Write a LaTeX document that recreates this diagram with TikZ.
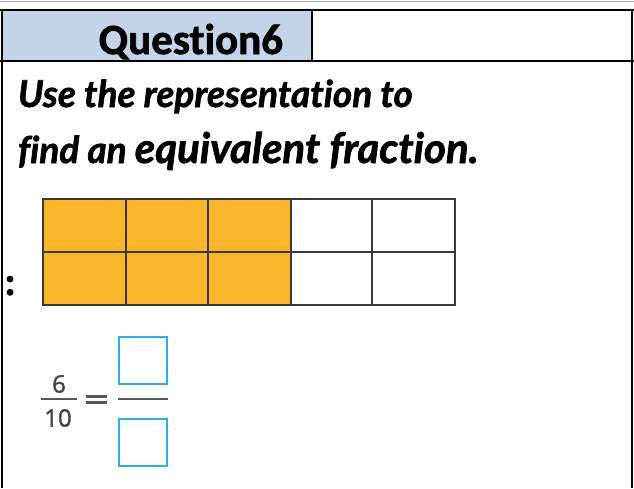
\documentclass[tikz,border=0pt]{standalone}
\usepackage{fontspec}
\setmainfont[Ligatures=NoCommon,BoldFeatures={FakeBold=1.6}]{Carlito}
\newfontfamily\latofont[Ligatures=NoCommon,BoldItalicFeatures={FakeBold=1.6}]{Lato}
\newfontfamily\figfont[FakeBold=1.6]{Open Sans}
\usepackage{tikz}
\usetikzlibrary{
    positioning
}
\definecolor{headblue}{HTML}{C6D4EA}
\definecolor{cellorange}{HTML}{FBB52B}
\definecolor{gridgray}{HTML}{3A3A3A}
\definecolor{boxcyan}{HTML}{2DB0E8}
\definecolor{figgray}{HTML}{444444}

\begin{document}
\begin{tikzpicture}[
    x=1pt,
    y=-1pt,
    every node/.style={
        inner sep=0pt,
        outer sep=0pt
    },
    frameline/.style={
        line width=2.6pt,
        black
    },
    gridline/.style={
        line width=2pt,
        draw=gridgray
    },
    answerbox/.style={
        draw=boxcyan,
        line width=2.4pt,
        minimum width=48pt,
        minimum height=47pt
    },
    figline/.style={
        line width=2.6pt,
        draw=figgray!90
    }
]

    \useasboundingbox (0,0) rectangle (634,488);

    % -------------------------------------------------------
    % Table frame and header
    % -------------------------------------------------------
    \draw[
        line width=1pt,
        gray!60
    ]
        (0,1) -- (634,1);

    \fill[headblue]
        (2,10) rectangle (312,61);

    \draw[frameline]
        (0,10) -- (634,10);

    \draw[frameline]
        (0,61) -- (634,61);

    \draw[frameline]
        (2,10) -- (2,488);

    \draw[frameline]
        (312,10) -- (312,61);

    \draw[frameline]
        (632,10) -- (632,488);

    \node[
        anchor=base east,
        font=\fontsize{43pt}{46pt}\selectfont\bfseries
    ] (qtitle) at (283,54)
        {Question6};

    % -------------------------------------------------------
    % Instruction text
    % -------------------------------------------------------
    \node[
        anchor=base west,
        font=\latofont\bfseries\itshape\fontsize{37pt}{40pt}\selectfont
    ] (lineone) at (18,107)
        {Use the representation to};

    \node[
        anchor=base west,
        font=\latofont\bfseries\itshape\fontsize{37pt}{40pt}\selectfont
    ] (linetwo) at (18,163)
        {find an {\fontsize{42pt}{45pt}\selectfont equivalent fraction.}};

    % -------------------------------------------------------
    % Fraction model
    % -------------------------------------------------------
    \fill[cellorange]
        (43,199) rectangle (291,305);

    \fill[white]
        (291,199) rectangle (455,305);

    \foreach \gx in {126,208,291,372} {
        \draw[gridline] (\gx,199) -- (\gx,305);
    }

    \draw[gridline]
        (43,252) -- (455,252);

    \draw[gridline]
        (43,199) rectangle (455,305);

    \node[
        anchor=base,
        font=\fontsize{40pt}{42pt}\selectfont\bfseries
    ] (colon) at (10,295)
        {:};

    % -------------------------------------------------------
    % Equivalent fraction
    % -------------------------------------------------------
    \node[
        font=\figfont\fontsize{24pt}{26pt}\selectfont,
        text=figgray
    ] (numsix) at (59,384)
        {6};

    \node[
        font=\figfont\fontsize{24pt}{26pt}\selectfont,
        text=figgray
    ] (denten) at (58,418)
        {10};

    \draw[figline]
        (41,399) -- (77,399);

    \draw[figline]
        (86,396.5) -- (107,396.5);

    \draw[figline]
        (86,402.5) -- (107,402.5);

    \node[answerbox] (topbox) at (143,360.5) {};

    \node[answerbox] (botbox) at (143,442.5) {};

    \draw[figline]
        (118,399) -- (168,399);

\end{tikzpicture}
\end{document}
